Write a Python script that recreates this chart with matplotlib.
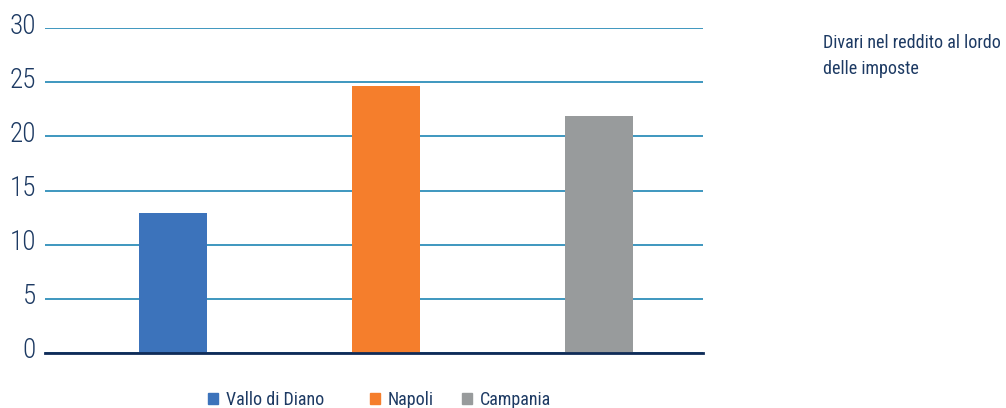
import matplotlib.pyplot as plt
import matplotlib.transforms as mtransforms
from matplotlib.patches import Patch

areas = ["Vallo di Diano", "Napoli", "Campania"]
values = [12.9, 24.65, 21.9]
colors = ["#3c73bb", "#f57e2c", "#989b9c"]
yticks = [0, 5, 10, 15, 20, 25, 30]
note = "Divari nel reddito al lordo\ndelle imposte"

navy = "#1d3a63"
plt.rcParams["font.family"] = ["Roboto Condensed", "DejaVu Sans"]
plt.rcParams["font.stretch"] = "condensed"

fig = plt.figure(figsize=(10.06, 4.08), dpi=100)
ax = fig.add_axes([45 / 1006, 1 - 353 / 408, 658 / 1006, 325 / 408])

x = list(range(len(areas)))
ax.bar(x, values, width=0.32, color=colors, zorder=3)

ax.set_ylim(0, 30)
ax.set_xlim(-0.6, 2.49)
ax.set_yticks(yticks)
ax.set_xticks([])
ax.yaxis.grid(True, color="#2f8fba", linewidth=1.3, zorder=0)
ax.tick_params(axis="y", length=0, labelsize=19.5, labelcolor=navy, pad=6.5)
# numbers sit a little above their grid lines
lift = mtransforms.ScaledTranslation(0, 5 / 100, fig.dpi_scale_trans)
for lbl in ax.get_yticklabels():
    lbl.set_fontweight("light")
    lbl.set_transform(lbl.get_transform() + lift)
for side in ["top", "right", "left"]:
    ax.spines[side].set_visible(False)
ax.spines["bottom"].set_color("#0f2b57")
ax.spines["bottom"].set_linewidth(2)
ax.spines["bottom"].set_zorder(4)

# one legend entry per area, placed independently
legend_x = [208, 370, 462]
for area, color, lx in zip(areas, colors, legend_x):
    fig.legend(handles=[Patch(color=color, label=area)], loc="center left",
               bbox_to_anchor=(lx / 1006, 1 - 400 / 408), frameon=False,
               fontsize=13, labelcolor=navy, handlelength=0.55, handleheight=0.55,
               handletextpad=0.45, borderpad=0, borderaxespad=0)

fig.text(823 / 1006, 1 - 34 / 408, note, fontsize=13, color=navy, va="top",
         linespacing=1.6)

fig.savefig("out.png", dpi=100)
